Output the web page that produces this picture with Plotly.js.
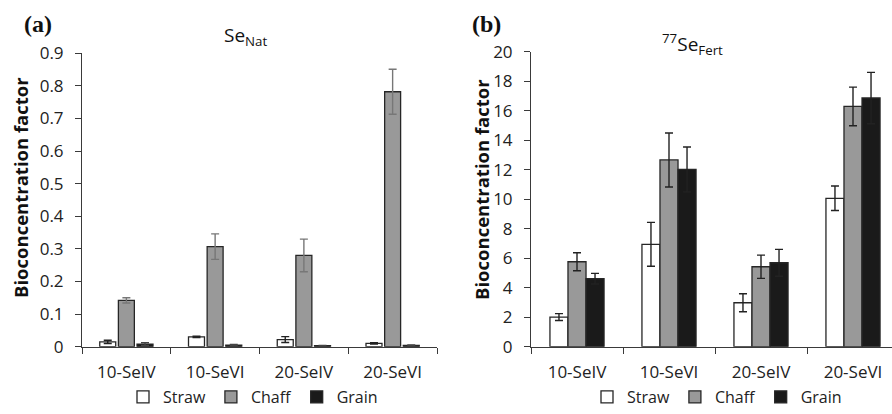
<!DOCTYPE html>
<html>
<head>
<meta charset="utf-8">
<script src="https://cdn.plot.ly/plotly-3.0.1.min.js"></script>
<style>html,body{margin:0;padding:0;background:#fff;}#chart{width:892px;height:414px;}</style>
</head>
<body>
<div id="chart"></div>
<script>
// ---- data ----
const categories = ["10-SeIV", "10-SeVI", "20-SeIV", "20-SeVI"];
const seriesNames = ["Straw", "Chaff", "Grain"];

// Panel (a): Se_Nat
const natStraw = [0.015, 0.030, 0.022, 0.010];
const natStrawErr = [0.005, 0.002, 0.009, 0.002];
const natChaff = [0.142, 0.307, 0.280, 0.782];
const natChaffErr = [0.008, 0.039, 0.050, 0.069];
const natGrain = [0.008, 0.005, 0.003, 0.004];
const natGrainErr = [0.004, 0.002, 0.001, 0.001];

// Panel (b): 77Se_Fert
const fertStraw = [2.01, 6.94, 2.98, 10.06];
const fertStrawErr = [0.23, 1.49, 0.61, 0.83];
const fertChaff = [5.76, 12.66, 5.42, 16.29];
const fertChaffErr = [0.61, 1.83, 0.79, 1.31];
const fertGrain = [4.61, 12.02, 5.69, 16.86];
const fertGrainErr = [0.36, 1.52, 0.91, 1.74];

const yTicksA = [0, 0.1, 0.2, 0.3, 0.4, 0.5, 0.6, 0.7, 0.8, 0.9];
const yTicksB = [0, 2, 4, 6, 8, 10, 12, 14, 16, 18, 20];

// ---- styles ----
const FONT = "Open Sans, Noto Sans, sans-serif";
const fills = ["#ffffff", "#999999", "#1a1a1a"];
const errColA = ["#222222", "#777777", "#444444"];
const offA = [-0.30, -0.09, 0.12], widA = 0.18;
const offB = [-0.294, -0.098, 0.098], widB = 0.196;

function bar(name, y, err, i, xa, ya, legend, off, wid, ecol) {
  return {
    type: "bar", name: name, x: categories, y: y,
    xaxis: xa, yaxis: ya, legend: legend,
    offset: off, width: wid,
    marker: {color: fills[i], line: {color: "#262626", width: 1.3}},
    error_y: {type: "data", array: err, visible: true, color: ecol, thickness: 1.4, width: 4},
    hoverinfo: "skip"
  };
}

const data = [
  bar(seriesNames[0], natStraw, natStrawErr, 0, "x", "y", "legend", offA[0], widA, errColA[0]),
  bar(seriesNames[1], natChaff, natChaffErr, 1, "x", "y", "legend", offA[1], widA, errColA[1]),
  bar(seriesNames[2], natGrain, natGrainErr, 2, "x", "y", "legend", offA[2], widA, errColA[2]),
  bar(seriesNames[0], fertStraw, fertStrawErr, 0, "x2", "y2", "legend2", offB[0], widB, "#222"),
  bar(seriesNames[1], fertChaff, fertChaffErr, 1, "x2", "y2", "legend2", offB[1], widB, "#222"),
  bar(seriesNames[2], fertGrain, fertGrainErr, 2, "x2", "y2", "legend2", offB[2], widB, "#222")
];

const tickFont = {family: FONT, size: 17, color: "#222"};
const axLine = "#3a3a3a";

function catAxis(domain, range) {
  return {domain: domain, type: "category", range: range, tickson: "boundaries",
    ticks: "outside", ticklen: 6, tickcolor: axLine, tickwidth: 1,
    showline: true, linecolor: axLine, linewidth: 1, showgrid: false, zeroline: false,
    tickfont: tickFont, ticklabelstandoff: 10, fixedrange: true};
}
function valAxis(domain, ticks, range) {
  return {domain: domain, range: range, tickmode: "array", tickvals: ticks,
    ticks: "outside", ticklen: 6, tickcolor: axLine, tickwidth: 1,
    showline: true, linecolor: axLine, linewidth: 1, showgrid: false, zeroline: false,
    tickfont: tickFont, ticklabelstandoff: 8, fixedrange: true};
}
function innerX(over, anchor, range) {
  return {overlaying: over, anchor: anchor, range: range, tickmode: "array",
    tickvals: [-0.5, 0.5, 1.5, 2.5, 3.5], ticks: "inside", ticklen: 6, tickcolor: axLine,
    showticklabels: false, showline: false, showgrid: false, zeroline: false, fixedrange: true};
}
function innerY(over, anchor, ticks, range) {
  return {overlaying: over, anchor: anchor, range: range, tickmode: "array",
    tickvals: ticks, ticks: "inside", ticklen: 6, tickcolor: axLine,
    showticklabels: false, showline: false, showgrid: false, zeroline: false, fixedrange: true};
}

const domXA = [82/892, 437/892], domXB = [531/892, 1];
const domYA = [(414-346.7)/414, (414-53.3)/414], domYB = [(414-346.7)/414, (414-51.7)/414];
const rXA = [-0.5, 3.5], rXB = [-0.5, -0.5 + 361/92];
const rYA = [0, 0.9], rYB = [0, 20];

const xA = catAxis(domXA, rXA); xA.anchor = "y";
const yA = valAxis(domYA, yTicksA, rYA); yA.anchor = "x";
const xB = catAxis(domXB, rXB); xB.anchor = "y2";
const yB = valAxis(domYB, yTicksB, rYB); yB.anchor = "x2";

function ann(text, xpx, ypx, size, family, extra) {
  return Object.assign({text: text, xref: "paper", yref: "paper", x: xpx/892, y: 1 - ypx/414,
    xanchor: "center", yanchor: "middle", showarrow: false,
    font: {family: family, size: size, color: "#111"}}, extra || {});
}

const legFont = {family: FONT, size: 16, color: "#222"};

const layout = {
  width: 892, height: 414,
  margin: {l: 0, r: 0, t: 0, b: 0},
  paper_bgcolor: "#fff", plot_bgcolor: "rgba(0,0,0,0)",
  barmode: "overlay",
  xaxis: xA, yaxis: yA, xaxis2: xB, yaxis2: yB,
  xaxis3: innerX("x", "y", rXA),
  yaxis3: innerY("y", "x", yTicksA, rYA),
  xaxis4: innerX("x2", "y2", rXB),
  yaxis4: innerY("y2", "x2", yTicksB, rYB),
  legend: {orientation: "h", x: 253/892, xanchor: "center", y: 0, yanchor: "bottom",
    font: legFont, itemwidth: 30, tracegroupgap: 0, bgcolor: "rgba(0,0,0,0)"},
  legend2: {orientation: "h", x: 717/892, xanchor: "center", y: 0, yanchor: "bottom",
    font: legFont, itemwidth: 30, tracegroupgap: 0, bgcolor: "rgba(0,0,0,0)"},
  annotations: [
    ann("<b>(a)</b>", 38, 24, 24, "Liberation Serif, serif"),
    ann("<b>(b)</b>", 487, 24, 24, "Liberation Serif, serif"),
    ann("Se<sub>Nat</sub>", 245, 36, 19, FONT),
    ann("<sup>77</sup>Se<sub>Fert</sub>", 692, 44, 19, FONT),
    ann("<b>Bioconcentration factor</b>", 20, 188, 18.5, FONT, {textangle: -90}),
    ann("<b>Bioconcentration factor</b>", 481, 189, 18.5, FONT, {textangle: -90})
  ],
  showlegend: true
};

Plotly.newPlot("chart", data, layout, {staticPlot: true, displayModeBar: false});
</script>
</body>
</html>
